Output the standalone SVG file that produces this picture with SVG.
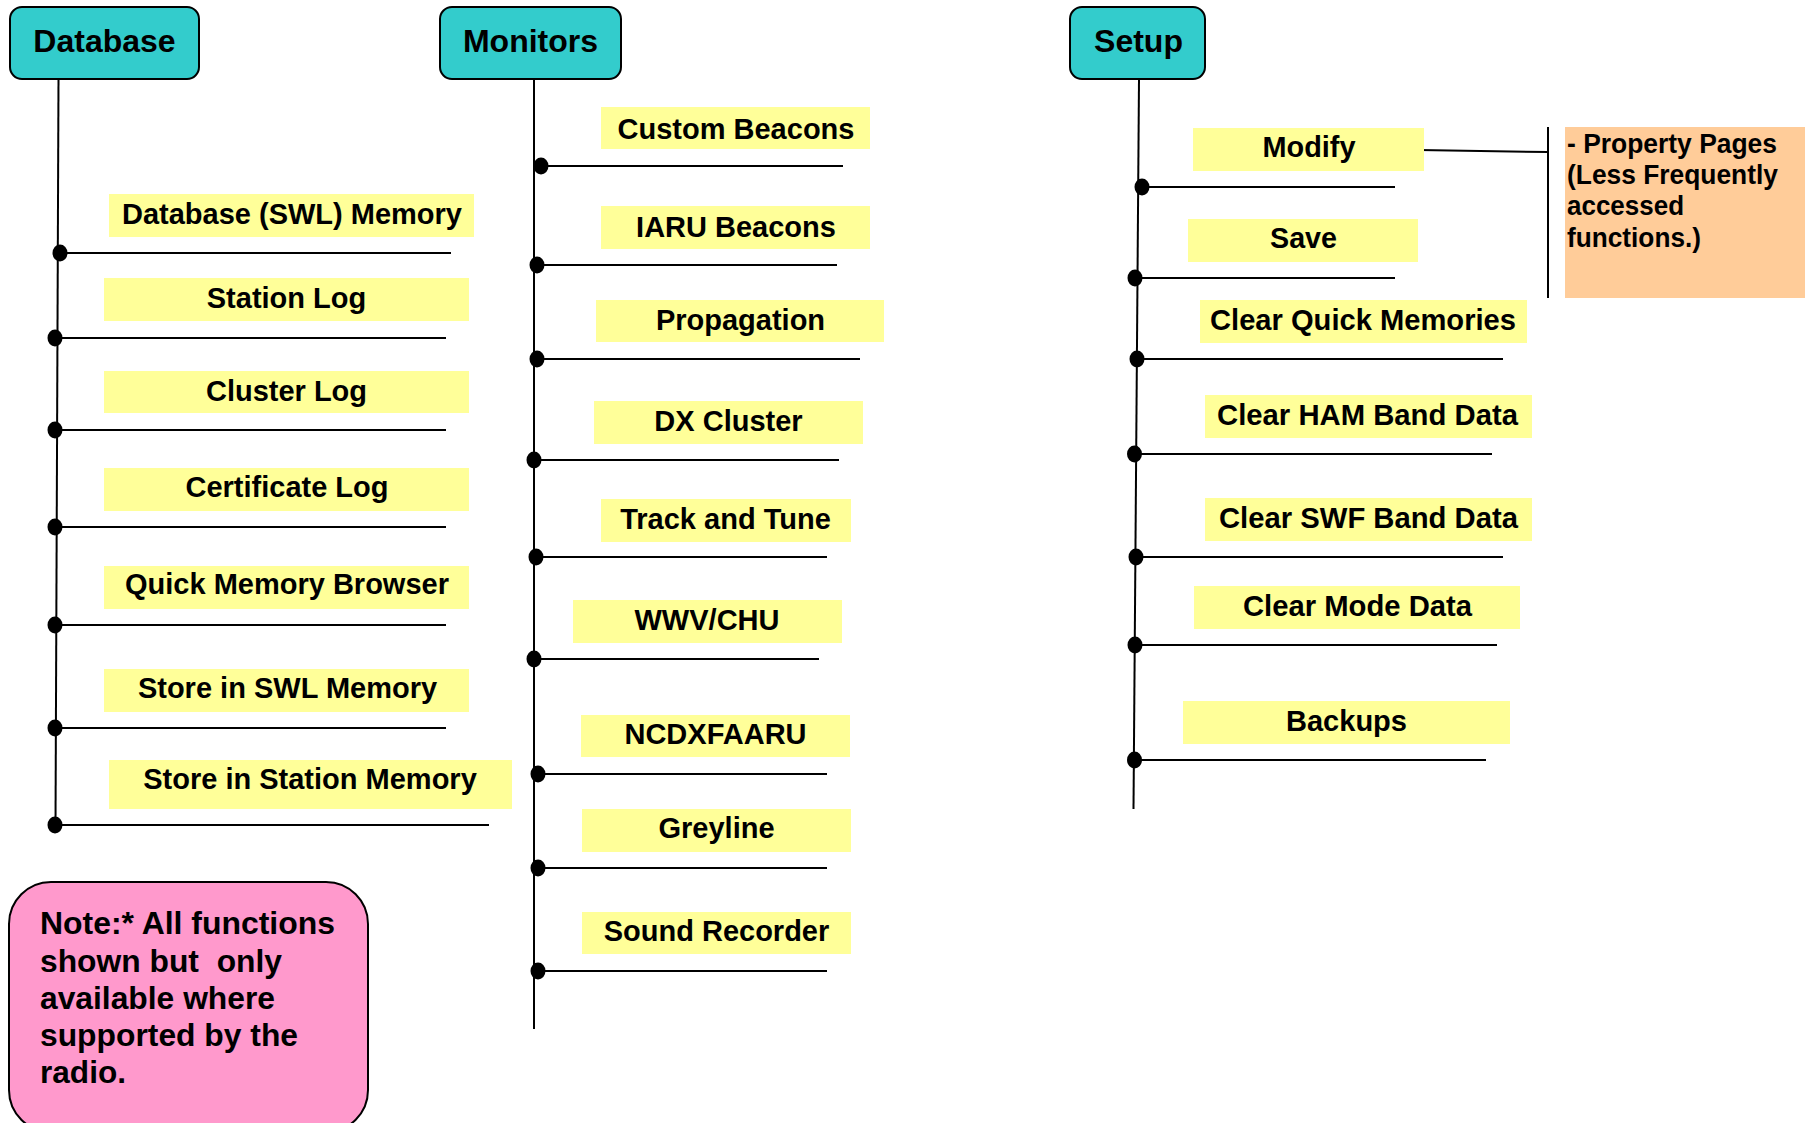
<svg xmlns="http://www.w3.org/2000/svg" width="1811" height="1123" viewBox="0 0 1811 1123">
<style>
text{font-family:"Liberation Sans",Arial,sans-serif;font-weight:bold;fill:#000}
.hdr rect{fill:#33CCCC;stroke:#000;stroke-width:2}
.hdr text{font-size:32px;text-anchor:middle}
.item rect{fill:#FFFF99}
.item text{font-size:29px;text-anchor:middle}
.setup text{font-size:30px}
.ln{stroke:#000;stroke-width:2;fill:none}
.dot{fill:#000}
.note text{font-size:31px}
.prop text{font-size:27px}
</style>
<defs><ellipse id="d" cx="0" cy="0" rx="7.5" ry="8.5"/></defs>
<rect width="1811" height="1123" fill="#fff"/>
<g id="connectors">
<path class="ln" d="M58.5,79 L55.5,826"/>
<path class="ln" d="M534,79 L534,1029"/>
<path class="ln" d="M1139,79 L1133.5,809"/>
<path class="ln" d="M60,253H451M55,338H446M55,430H446M55,527H446M55,625H446M55,728H446M55,825H489"/>
<path class="ln" d="M541,166H843M537,265H837M537,359H860M534,460H839M536,557H827M534,659H819M538,774H827M538,868H827M538,971H827"/>
<path class="ln" d="M1142,187H1395M1135,278H1395M1137,359H1503M1134.5,454H1492M1136,557H1503M1135,645H1497M1134.5,760H1486"/>
<path class="ln" d="M1419,150L1548,152M1548,127V298"/>
<g class="dot">
<use href="#d" x="60" y="253"/><use href="#d" x="55" y="338"/><use href="#d" x="55" y="430"/><use href="#d" x="55" y="527"/><use href="#d" x="55" y="625"/><use href="#d" x="55" y="728"/><use href="#d" x="55" y="825"/>
<use href="#d" x="541" y="166"/><use href="#d" x="537" y="265"/><use href="#d" x="537" y="359"/><use href="#d" x="534" y="460"/><use href="#d" x="536" y="557"/><use href="#d" x="534" y="659"/><use href="#d" x="538" y="774"/><use href="#d" x="538" y="868"/><use href="#d" x="538" y="971"/>
<use href="#d" x="1142" y="187"/><use href="#d" x="1135" y="278"/><use href="#d" x="1137" y="359"/><use href="#d" x="1134.5" y="454"/><use href="#d" x="1136" y="557"/><use href="#d" x="1135" y="645"/><use href="#d" x="1134.5" y="760"/>
</g>
</g>
<g id="database" class="hdr"><rect x="10" y="7" width="189" height="72" rx="12"/><text x="104.5" y="52">Database</text></g>
<g id="monitors" class="hdr"><rect x="440" y="7" width="181" height="72" rx="12"/><text x="530.5" y="52">Monitors</text></g>
<g id="setup" class="hdr"><rect x="1070" y="7" width="135" height="72" rx="12"/><text x="1138.5" y="52">Setup</text></g>

<g id="db-swl-memory" class="item"><rect x="109" y="194" width="365" height="43"/><text x="292" y="224">Database (SWL) Memory</text></g>
<g id="station-log" class="item"><rect x="104" y="278" width="365" height="43"/><text x="286.5" y="308">Station Log</text></g>
<g id="cluster-log" class="item"><rect x="104" y="371" width="365" height="42"/><text x="286.5" y="400.5">Cluster Log</text></g>
<g id="certificate-log" class="item"><rect x="104" y="468" width="365" height="43"/><text x="287" y="497">Certificate Log</text></g>
<g id="quick-memory-browser" class="item"><rect x="104" y="566" width="365" height="43"/><text x="287" y="594">Quick Memory Browser</text></g>
<g id="store-swl-memory" class="item"><rect x="104" y="669" width="365" height="43"/><text x="287.5" y="698">Store in SWL Memory</text></g>
<g id="store-station-memory" class="item"><rect x="109" y="760" width="403" height="49"/><text x="310" y="789">Store in Station Memory</text></g>

<g id="custom-beacons" class="item"><rect x="601" y="107" width="269" height="42"/><text x="736" y="138.5">Custom Beacons</text></g>
<g id="iaru-beacons" class="item"><rect x="601" y="206" width="269" height="43"/><text x="736" y="237">IARU Beacons</text></g>
<g id="propagation" class="item"><rect x="596" y="300" width="288" height="42"/><text x="740.5" y="330">Propagation</text></g>
<g id="dx-cluster" class="item"><rect x="594" y="401" width="269" height="43"/><text x="728.5" y="431">DX Cluster</text></g>
<g id="track-and-tune" class="item"><rect x="601" y="499" width="250" height="43"/><text x="725.5" y="528.5">Track and Tune</text></g>
<g id="wwv-chu" class="item"><rect x="573" y="600" width="269" height="43"/><text x="707" y="630">WWV/CHU</text></g>
<g id="ncdxfaaru" class="item"><rect x="581" y="715" width="269" height="42"/><text x="715.5" y="744">NCDXFAARU</text></g>
<g id="greyline" class="item"><rect x="582" y="809" width="269" height="43"/><text x="716.5" y="837.5">Greyline</text></g>
<g id="sound-recorder" class="item"><rect x="582" y="912" width="269" height="42"/><text x="716.5" y="940.5">Sound Recorder</text></g>

<g id="modify" class="item setup"><rect x="1193" y="128" width="231" height="43"/><text x="1309" y="157" textLength="93" lengthAdjust="spacingAndGlyphs">Modify</text></g>
<g id="save" class="item setup"><rect x="1188" y="219" width="230" height="43"/><text x="1303.5" y="248" textLength="67" lengthAdjust="spacingAndGlyphs">Save</text></g>
<g id="clear-quick-memories" class="item setup"><rect x="1200" y="300" width="327" height="43"/><text x="1363" y="330" textLength="306" lengthAdjust="spacingAndGlyphs">Clear Quick Memories</text></g>
<g id="clear-ham-band-data" class="item setup"><rect x="1205" y="395" width="327" height="43"/><text x="1367.5" y="425" textLength="301" lengthAdjust="spacingAndGlyphs">Clear HAM Band Data</text></g>
<g id="clear-swf-band-data" class="item setup"><rect x="1205" y="498" width="327" height="43"/><text x="1368.5" y="528" textLength="299" lengthAdjust="spacingAndGlyphs">Clear SWF Band Data</text></g>
<g id="clear-mode-data" class="item setup"><rect x="1194" y="586" width="326" height="43"/><text x="1357.5" y="616" textLength="229" lengthAdjust="spacingAndGlyphs">Clear Mode Data</text></g>
<g id="backups" class="item setup"><rect x="1183" y="701" width="327" height="43"/><text x="1346.5" y="731" textLength="121" lengthAdjust="spacingAndGlyphs">Backups</text></g>

<g id="property-pages" class="prop"><rect x="1565" y="127" width="240" height="171" fill="#FFCC99"/>
<text x="1567" y="153" textLength="210" lengthAdjust="spacingAndGlyphs">- Property Pages</text>
<text x="1567" y="184" textLength="211" lengthAdjust="spacingAndGlyphs">(Less Frequently</text>
<text x="1567" y="215" textLength="117" lengthAdjust="spacingAndGlyphs">accessed</text>
<text x="1567" y="247" textLength="134" lengthAdjust="spacingAndGlyphs">functions.)</text>
</g>

<g id="note" class="note"><rect x="9" y="882" width="359" height="250" rx="42" fill="#FF99CC" stroke="#000" stroke-width="2"/>
<text x="40" y="934" textLength="295" lengthAdjust="spacingAndGlyphs">Note:* All functions</text>
<text x="40" y="972" textLength="242" lengthAdjust="spacingAndGlyphs" style="white-space:pre">shown but  only</text>
<text x="40" y="1009" textLength="235" lengthAdjust="spacingAndGlyphs">available where</text>
<text x="40" y="1046" textLength="258" lengthAdjust="spacingAndGlyphs">supported by the</text>
<text x="40" y="1083" textLength="86" lengthAdjust="spacingAndGlyphs">radio.</text>
</g>
</svg>
